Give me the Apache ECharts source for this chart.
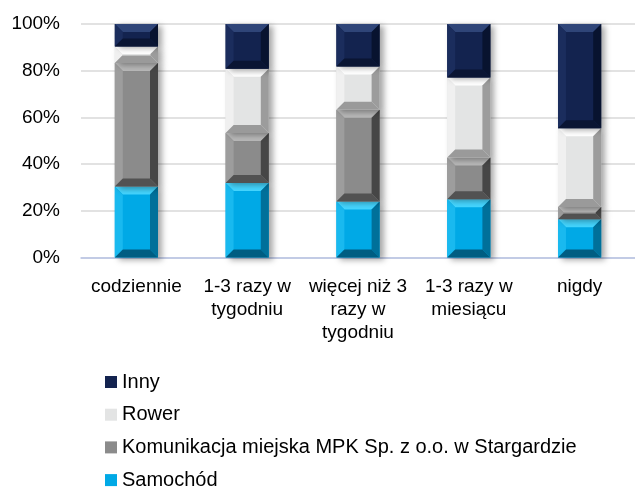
<!DOCTYPE html>
<html><head><meta charset="utf-8">
<script src="https://cdn.jsdelivr.net/npm/echarts@6/dist/echarts.min.js"></script>
<style>html,body{margin:0;padding:0;background:#fff}#c{width:635px;height:488px}</style>
</head><body><div id="c"></div>
<script>
var categories = ['codziennie', '1-3 razy w\ntygodniu', 'więcej niż 3\nrazy w\ntygodniu', '1-3 razy w\nmiesiącu', 'nigdy'];
var samochod = [30.4, 31.9, 24.0, 25.0, 16.4];
var komunikacja = [52.9, 21.4, 39.3, 17.8, 5.2];
var rower = [7.1, 27.5, 18.5, 34.3, 33.8];
var inny = [9.6, 19.2, 18.2, 22.9, 44.6];
var yTicks = [0, 20, 40, 60, 80, 100];
var seriesNames = ['Samochód', 'Komunikacja miejska MPK Sp. z o.o. w Stargardzie', 'Rower', 'Inny'];

var FONT = "'Liberation Sans',Arial,sans-serif";
var palettes = [
  {base:'#00a9e6', top:'#45d6ff', left:'#19b9ef', right:'#00709a', bottom:'#005d82'},
  {base:'#8b8b8b', top:'#b8b8b8', left:'#9d9d9d', right:'#464646', bottom:'#525252'},
  {base:'#e3e4e4', top:'#ffffff', left:'#f0f0f0', right:'#9c9c9c', bottom:'#9a9a9a'},
  {base:'#13234f', top:'#2f4578', left:'#1b2d5d', right:'#08132f', bottom:'#0a1533'}
];
var raw = [samochod, komunikacja, rower, inny];
var cum = categories.map(function(){return 0;});
var stacked = raw.map(function(arr){
  return arr.map(function(v, i){ var lo = cum[i]; cum[i] += v; return [i, lo, cum[i]]; });
});

function makeRender(pal){
  return function(params, api){
    var cat = api.value(0), lo = api.value(1), hi = api.value(2);
    var p0 = api.coord([cat, lo]), p1 = api.coord([cat, hi]);
    var w = api.size([1, 0])[0] * 0.39;
    var x = p0[0] - w/2, y = p1[1], h = p0[1] - p1[1];
    var b = Math.min(8, h/2.2, w/3);
    var x2 = x + w, y2 = y + h;
    return {type:'group', children:[
      {type:'rect', shape:{x:x, y:y, width:w, height:h}, style:{fill:pal.base, shadowColor:'rgba(0,0,0,0.35)', shadowBlur:6, shadowOffsetX:4, shadowOffsetY:2}},
      {type:'polygon', shape:{points:[[x,y],[x2,y],[x2-b,y+b],[x+b,y+b]]}, style:{fill:pal.top}},
      {type:'polygon', shape:{points:[[x,y],[x+b,y+b],[x+b,y2-b],[x,y2]]}, style:{fill:pal.left}},
      {type:'polygon', shape:{points:[[x2,y],[x2,y2],[x2-b,y2-b],[x2-b,y+b]]}, style:{fill:pal.right}},
      {type:'polygon', shape:{points:[[x,y2],[x+b,y2-b],[x2-b,y2-b],[x2,y2]]}, style:{fill:pal.bottom}}
    ]};
  };
}

var series = stacked.map(function(d, k){
  return {type:'custom', name:seriesNames[k], data:d, encode:{x:0, y:2},
    renderItem: makeRender(palettes[k]), itemStyle:{color:palettes[k].base}, clip:false};
});

var chart = echarts.init(document.getElementById('c'), null, {renderer:'canvas'});
chart.setOption({
  animation:false,
  backgroundColor:'#fff',
  textStyle:{fontFamily:FONT},
  grid:{left:81, top:24, width:562.5, height:233.5},
  xAxis:{type:'category', data:categories,
    axisLine:{lineStyle:{color:'#b8c3e6', width:1.5}}, axisTick:{show:false},
    axisLabel:{color:'#000', fontSize:19, fontFamily:FONT, lineHeight:23, margin:18, interval:0}},
  yAxis:{type:'value', min:yTicks[0], max:yTicks[yTicks.length-1], interval:20,
    axisLine:{show:false}, axisTick:{show:false},
    splitLine:{lineStyle:{color:'#d9d9d9', width:1.5}},
    axisLabel:{color:'#000', fontSize:19, fontFamily:FONT, margin:21, formatter:'{value}%'}},
  legend:{orient:'vertical', left:100, top:367, height:140, padding:5, itemWidth:12, itemHeight:12, itemGap:12.7, icon:'rect',
    data:[seriesNames[3], seriesNames[2], seriesNames[1], seriesNames[0]],
    textStyle:{color:'#000', fontSize:20, fontFamily:FONT, lineHeight:20}},
  series:series
});
</script></body></html>
